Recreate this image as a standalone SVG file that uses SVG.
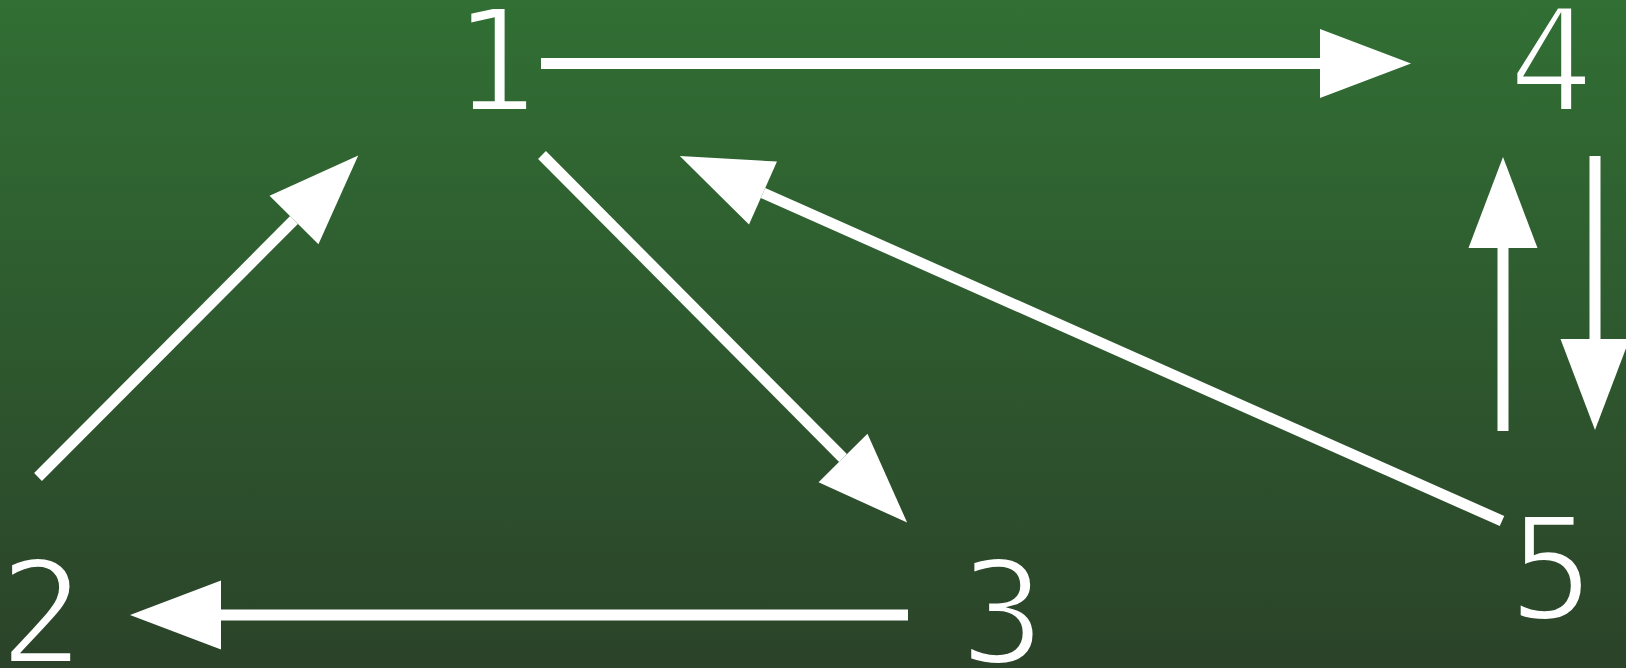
<svg xmlns="http://www.w3.org/2000/svg" width="1626" height="668" viewBox="0 0 1626 668">
<defs>
<linearGradient id="bg" gradientUnits="userSpaceOnUse" x1="0" y1="0" x2="0" y2="668">
<stop offset="0" stop-color="#316f34"/>
<stop offset="1" stop-color="#2b4329"/>
</linearGradient>
<marker id="ah" markerUnits="userSpaceOnUse" markerWidth="92" markerHeight="70" refX="0" refY="34.5" orient="auto" overflow="visible">
<path d="M0,0 L91,34.5 L0,69 Z" fill="#ffffff"/>
</marker>
<style>
.lbl{font-family:"DejaVu Sans Mono",monospace;font-size:142px;fill:#ffffff;stroke:url(#bg);stroke-width:4;text-anchor:middle}
.edge{stroke:#ffffff;stroke-width:11;fill:none;marker-end:url(#ah)}
</style>
</defs>
<rect x="0" y="0" width="1626" height="668" fill="url(#bg)"/>
<g id="connectors">
<line class="edge" x1="541" y1="63.5" x2="1320" y2="63.5"/>
<line class="edge" x1="1503" y1="431" x2="1503" y2="248"/>
<line class="edge" x1="1595" y1="156" x2="1595" y2="339"/>
<line class="edge" x1="38" y1="477" x2="294" y2="220"/>
<line class="edge" x1="542" y1="155" x2="843" y2="458"/>
<line class="edge" x1="908" y1="615" x2="221" y2="615"/>
<line class="edge" x1="1502" y1="521" x2="763" y2="193"/>
</g>
<g id="node1"><text class="lbl" x="495" y="111">1</text></g>
<g id="node2"><text class="lbl" x="41.5" y="662.5">2</text></g>
<g id="node3"><text class="lbl" x="1002.5" y="662.5">3</text></g>
<g id="node4"><text class="lbl" x="1551" y="111">4</text></g>
<g id="node5"><text class="lbl" x="1551.5" y="618.5">5</text></g>
</svg>
